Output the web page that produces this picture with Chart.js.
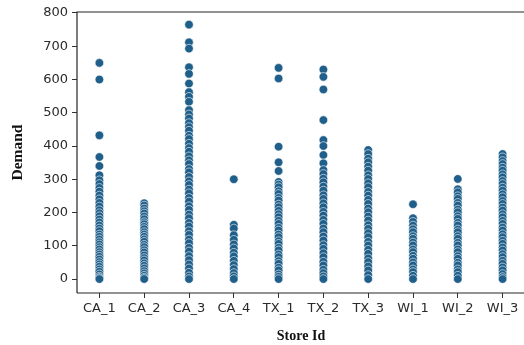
<!DOCTYPE html>
<html>
<head>
<meta charset="utf-8">
<script src="https://cdn.jsdelivr.net/npm/chart.js@4.4.1/dist/chart.umd.min.js"></script>
<style>
  html, body { margin: 0; padding: 0; background: #fff; overflow: hidden; }
  #wrap { width: 530px; height: 345px; }
</style>
</head>
<body>
<div id="wrap"><canvas id="stripChart" width="530" height="345"></canvas></div>
<script>
const storeIds = ['CA_1', 'CA_2', 'CA_3', 'CA_4', 'TX_1', 'TX_2', 'TX_3', 'WI_1', 'WI_2', 'WI_3'];
const yTicks = [0, 100, 200, 300, 400, 500, 600, 700, 800];

const demandCA1 = [650, 600, 432, 367, 340, 312, 297, 286, 274, 263, 251, 240, 229, 218, 207, 198, 189, 179, 170, 161, 152, 144, 134, 127, 119, 111, 104, 96, 89, 81, 74, 67, 59, 51, 44, 37, 29, 22, 14, 7, 3, 0];
const demandCA2 = [228, 221, 212, 204, 197, 188, 180, 171, 165, 157, 150, 141, 134, 127, 119, 112, 103, 96, 87, 80, 71, 63, 56, 47, 40, 32, 24, 17, 10, 4, 0];
const demandCA3 = [765, 712, 693, 637, 617, 588, 562, 548, 533, 508, 495, 483, 469, 457, 446, 431, 421, 407, 394, 383, 369, 357, 346, 331, 321, 307, 294, 283, 269, 258, 244, 233, 219, 208, 194, 183, 169, 158, 144, 133, 119, 108, 94, 83, 69, 57, 44, 32, 19, 8, 0];
const demandCA4 = [300, 163, 152, 132, 118, 104, 92, 79, 68, 55, 42, 30, 18, 8, 0];
const demandTX1 = [635, 603, 398, 351, 325, 292, 284, 276, 264, 256, 244, 236, 224, 216, 205, 195, 186, 175, 166, 154, 146, 134, 126, 114, 106, 94, 86, 74, 66, 54, 46, 34, 26, 14, 7, 0];
const demandTX2 = [630, 608, 570, 478, 418, 400, 373, 348, 328, 316, 302, 291, 278, 266, 252, 241, 228, 216, 202, 191, 178, 166, 152, 141, 128, 116, 102, 91, 78, 66, 52, 41, 28, 18, 8, 0];
const demandTX3 = [388, 376, 362, 351, 338, 326, 312, 301, 288, 276, 262, 251, 238, 226, 212, 201, 188, 176, 162, 151, 138, 126, 112, 101, 88, 76, 62, 51, 38, 26, 12, 0];
const demandWI1 = [225, 183, 172, 161, 150, 141, 129, 121, 110, 101, 89, 81, 70, 61, 50, 41, 29, 21, 10, 0];
const demandWI2 = [301, 270, 261, 249, 241, 229, 221, 209, 201, 189, 181, 169, 161, 149, 141, 129, 121, 109, 101, 89, 81, 69, 61, 49, 41, 29, 21, 10, 0];
const demandWI3 = [376, 366, 355, 346, 335, 326, 315, 306, 295, 286, 275, 266, 255, 246, 235, 226, 215, 206, 195, 186, 175, 166, 155, 146, 135, 126, 115, 106, 95, 86, 75, 66, 55, 46, 35, 26, 15, 6, 0];

const demandByStore = [demandCA1, demandCA2, demandCA3, demandCA4, demandTX1, demandTX2, demandTX3, demandWI1, demandWI2, demandWI3];

function buildPoints() {
  const pts = [];
  demandByStore.forEach((values, i) => {
    values.forEach(v => pts.push({ x: i, y: v }));
  });
  return pts;
}

const frameLines = {
  id: 'frameLines',
  afterDraw(chart) {
    const { ctx, chartArea } = chart;
    ctx.save();
    ctx.strokeStyle = '#262626';
    ctx.lineWidth = 1.2;
    ctx.beginPath();
    ctx.moveTo(chartArea.left, chartArea.bottom);
    ctx.lineTo(chartArea.left, chartArea.top);
    ctx.lineTo(chartArea.right, chartArea.top);
    ctx.moveTo(chartArea.left, chartArea.bottom);
    ctx.lineTo(chartArea.right, chartArea.bottom);
    ctx.stroke();
    ctx.restore();
  }
};

const tickFont = { family: '"DejaVu Sans", sans-serif', size: 13 };

new Chart(document.getElementById('stripChart'), {
  type: 'scatter',
  data: {
    datasets: [{
      label: 'Demand',
      data: buildPoints(),
      backgroundColor: '#1f5f8a',
      borderColor: 'rgba(255,255,255,0.85)',
      borderWidth: 0.7,
      pointRadius: 4.3,
      pointHoverRadius: 4.3
    }]
  },
  options: {
    responsive: false,
    animation: false,
    layout: { padding: { top: 12, left: 0, right: 0, bottom: 0 } },
    plugins: { legend: { display: false }, tooltip: { enabled: false } },
    scales: {
      x: {
        type: 'linear',
        min: -0.5,
        max: 9.5,
        afterBuildTicks: scale => { scale.ticks = storeIds.map((s, i) => ({ value: i })); },
        afterFit: scale => { scale.height = 52; },
        border: { display: false },
        grid: { display: true, drawOnChartArea: false, drawTicks: true, tickLength: 5, color: '#333' },
        ticks: {
          color: '#2a2a2a',
          font: tickFont,
          padding: 3,
          maxRotation: 0,
          autoSkip: false,
          callback: v => storeIds[v]
        },
        title: {
          display: true, text: 'Store Id', color: '#111',
          font: { family: '"Liberation Serif", "Times New Roman", serif', size: 14, weight: 'bold' },
          padding: { top: 6, bottom: 0 }
        }
      },
      y: {
        min: -42,
        max: 803,
        afterBuildTicks: scale => { scale.ticks = yTicks.map(v => ({ value: v })); },
        afterFit: scale => { scale.width = 77; },
        border: { display: false },
        grid: { display: true, drawOnChartArea: false, drawTicks: true, tickLength: 5, color: '#333' },
        ticks: { color: '#2a2a2a', font: tickFont, padding: 4 },
        title: {
          display: true, text: 'Demand', color: '#111',
          font: { family: '"Liberation Serif", "Times New Roman", serif', size: 15.5, weight: 'bold' },
          padding: { top: 9, bottom: 0 }
        }
      }
    }
  },
  plugins: [frameLines]
});
</script>
</body>
</html>
